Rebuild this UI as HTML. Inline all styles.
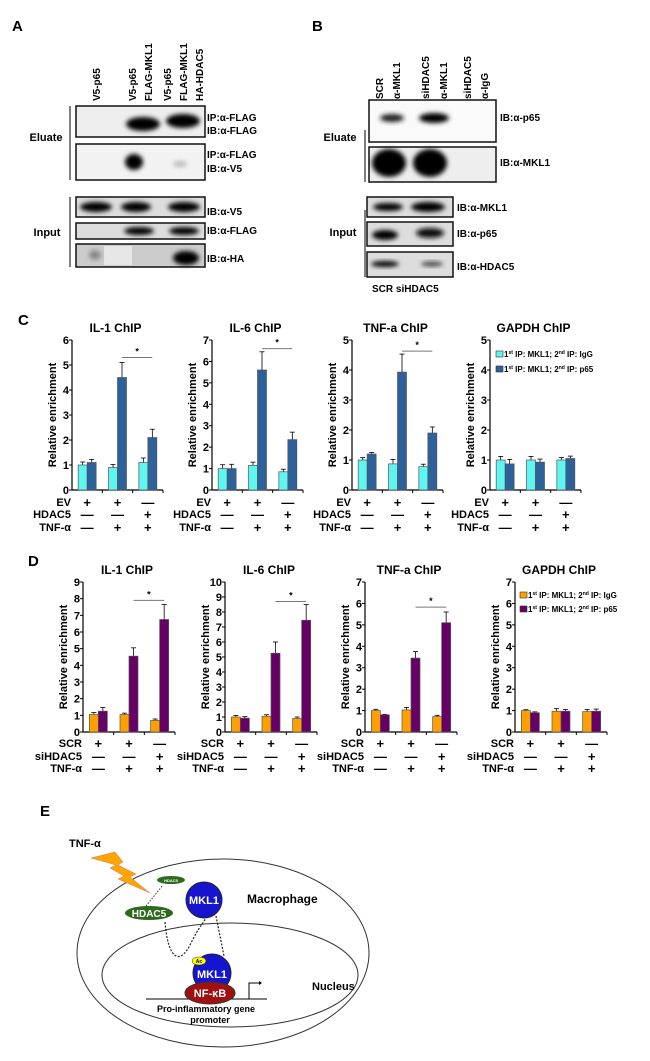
<!DOCTYPE html>
<html><head><meta charset="utf-8"><style>
body{margin:0;background:#fff}
svg{display:block;font-family:"Liberation Sans",Arial,sans-serif;font-weight:bold}
</style></head><body>
<svg id="fig" width="650" height="1061" viewBox="0 0 650 1061">
<defs>
<filter id="bl" x="-50%" y="-50%" width="200%" height="200%"><feGaussianBlur stdDeviation="2.5"/></filter>
</defs>
<!-- Panel A -->
<g>
<text x="12" y="31" font-size="15">A</text>
<g font-size="10">
<text transform="translate(100,101) rotate(-90)">V5-p65</text>
<text transform="translate(136,101) rotate(-90)">V5-p65</text>
<text transform="translate(152,101) rotate(-90)">FLAG-MKL1</text>
<text transform="translate(171,101) rotate(-90)">V5-p65</text>
<text transform="translate(187,101) rotate(-90)">FLAG-MKL1</text>
<text transform="translate(203,101) rotate(-90)">HA-HDAC5</text>
</g>
<line x1="70" y1="106" x2="70" y2="180" stroke="#000"/>
<line x1="70" y1="197" x2="70" y2="267" stroke="#000"/>
<text x="46" y="141" font-size="11" text-anchor="middle">Eluate</text>
<text x="47" y="236" font-size="11" text-anchor="middle">Input</text>
<g>
<rect x="76" y="106" width="129" height="31" fill="#eee" stroke="#111" stroke-width="1.5"/>
<ellipse cx="143" cy="124" rx="17" ry="7" fill="#000" filter="url(#bl)"/>
<ellipse cx="183" cy="121" rx="17" ry="7" fill="#000" filter="url(#bl)"/>
</g>
<g>
<rect x="76" y="144" width="129" height="36" fill="#f2f2f2" stroke="#111" stroke-width="1.5"/>
<ellipse cx="134" cy="162" rx="9" ry="8" fill="#000" filter="url(#bl)"/>
<ellipse cx="180" cy="164" rx="7" ry="3" fill="#bbb" filter="url(#bl)"/>
</g>
<g>
<rect x="76" y="197" width="129" height="20" fill="#ddd" stroke="#111" stroke-width="1.5"/>
<ellipse cx="96" cy="207" rx="16" ry="5" fill="#000" filter="url(#bl)"/>
<ellipse cx="136" cy="207" rx="15" ry="5" fill="#000" filter="url(#bl)"/>
<ellipse cx="184" cy="207" rx="16" ry="5" fill="#000" filter="url(#bl)"/>
</g>
<g>
<rect x="76" y="223" width="129" height="16" fill="#ddd" stroke="#111" stroke-width="1.5"/>
<ellipse cx="139" cy="231" rx="15" ry="4" fill="#000" filter="url(#bl)"/>
<ellipse cx="184" cy="231" rx="15" ry="4" fill="#000" filter="url(#bl)"/>
</g>
<g>
<rect x="76" y="244" width="129" height="23" fill="#ccc" stroke="#111" stroke-width="1.5"/>
<rect x="104" y="246" width="28" height="19" fill="#e6e6e6"/>
<ellipse cx="95" cy="255" rx="6" ry="5" fill="#888" filter="url(#bl)"/>
<ellipse cx="186" cy="258" rx="13" ry="7" fill="#000" filter="url(#bl)"/>
</g>
<g font-size="10">
<text x="207" y="121">IP:α-FLAG</text><text x="207" y="134">IB:α-FLAG</text>
<text x="207" y="158">IP:α-FLAG</text><text x="207" y="172">IB:α-V5</text>
<text x="207" y="215">IB:α-V5</text>
<text x="207" y="234">IB:α-FLAG</text>
<text x="207" y="262">IB:α-HA</text>
</g>
</g>
<!-- Panel B -->
<g>
<text x="312" y="31" font-size="15">B</text>
<g font-size="10">
<text transform="translate(383,99) rotate(-90)">SCR</text>
<text transform="translate(400,99) rotate(-90)">α-MKL1</text>
<text transform="translate(429,99) rotate(-90)">siHDAC5</text>
<text transform="translate(447,99) rotate(-90)">α-MKL1</text>
<text transform="translate(471,99) rotate(-90)">siHDAC5</text>
<text transform="translate(488,99) rotate(-90)">α-IgG</text>
</g>
<line x1="365" y1="130" x2="365" y2="182" stroke="#000"/>
<line x1="365" y1="210" x2="365" y2="277" stroke="#000"/>
<text x="340" y="141" font-size="11" text-anchor="middle">Eluate</text>
<text x="343" y="236" font-size="11" text-anchor="middle">Input</text>
<g>
<rect x="369" y="100" width="127" height="42" fill="#fafafa" stroke="#111" stroke-width="1.5"/>
<ellipse cx="392" cy="118" rx="12" ry="4" fill="#222" filter="url(#bl)"/>
<ellipse cx="434" cy="118" rx="15" ry="5" fill="#000" filter="url(#bl)"/>
</g>
<g>
<rect x="369" y="147" width="127" height="35" fill="#eee" stroke="#111" stroke-width="1.5"/>
<ellipse cx="389" cy="163" rx="17" ry="14" fill="#000" filter="url(#bl)"/>
<ellipse cx="430" cy="163" rx="17" ry="14" fill="#000" filter="url(#bl)"/>
</g>
<g>
<rect x="367" y="197" width="86" height="20" fill="#ddd" stroke="#111" stroke-width="1.5"/>
<ellipse cx="388" cy="207" rx="15" ry="4" fill="#000" filter="url(#bl)"/>
<ellipse cx="428" cy="207" rx="17" ry="5" fill="#000" filter="url(#bl)"/>
</g>
<g>
<rect x="367" y="222" width="86" height="24" fill="#ddd" stroke="#111" stroke-width="1.5"/>
<ellipse cx="385" cy="235" rx="13" ry="5" fill="#000" filter="url(#bl)"/>
<ellipse cx="430" cy="233" rx="14" ry="5" fill="#111" filter="url(#bl)"/>
</g>
<g>
<rect x="367" y="252" width="86" height="25" fill="#ddd" stroke="#111" stroke-width="1.5"/>
<ellipse cx="385" cy="264" rx="14" ry="3" fill="#000" filter="url(#bl)"/>
<ellipse cx="432" cy="264" rx="11" ry="2.5" fill="#444" filter="url(#bl)"/>
</g>
<g font-size="10">
<text x="500" y="121">IB:α-p65</text>
<text x="500" y="166">IB:α-MKL1</text>
<text x="457" y="211">IB:α-MKL1</text>
<text x="457" y="237">IB:α-p65</text>
<text x="457" y="270">IB:α-HDAC5</text>
<text x="372" y="292">SCR siHDAC5</text>
</g>
</g>
<text x="18" y="325" font-size="15">C</text>
<text x="28" y="566" font-size="15">D</text>
<g id="charts"></g>
<!-- Panel E -->
<g>
<text x="40" y="816" font-size="15">E</text>
<ellipse cx="223" cy="953" rx="146" ry="94" fill="none" stroke="#333"/>
<ellipse cx="230" cy="975" rx="128" ry="52" fill="none" stroke="#333"/>
<text x="69" y="847" font-size="11">TNF-α</text>
<polygon points="91,858 115,852 123,862 118,865 136,874 130,877 150,893 118,879 124,876 110,868 116,865" fill="#ffa500" stroke="#c77" stroke-width="0.5"/>
<ellipse cx="171" cy="880" rx="14" ry="4" fill="#2d6a1e"/>
<text x="171" y="882" font-size="4" fill="#fff" text-anchor="middle">HDAC5</text>
<line x1="146" y1="906" x2="163" y2="885" stroke="#333" stroke-dasharray="1.5,1.5"/>
<ellipse cx="149" cy="913" rx="24" ry="7" fill="#2d6a1e"/>
<text x="149" y="917" font-size="10" fill="#fff" text-anchor="middle">HDAC5</text>
<circle cx="204" cy="900" r="18" fill="#1515d0" stroke="#222"/>
<text x="204" y="904" font-size="11" fill="#fff" text-anchor="middle">MKL1</text>
<text x="247" y="903" font-size="12">Macrophage</text>
<path d="M165,922 C168,960 180,965 190,945 S202,925 206,918" fill="none" stroke="#222" stroke-dasharray="2,1.5" stroke-width="1.2"/>
<line x1="216" y1="916" x2="224" y2="956" stroke="#222" stroke-dasharray="2,1.5" stroke-width="1.2"/>
<circle cx="212" cy="973" r="19" fill="#1515d0" stroke="#222"/>
<text x="212" y="978" font-size="11" fill="#fff" text-anchor="middle">MKL1</text>
<ellipse cx="199" cy="961" rx="7" ry="4" fill="#ff0" stroke="#333" stroke-width="0.5"/>
<text x="199" y="963" font-size="5" text-anchor="middle">Ac</text>
<line x1="146" y1="999" x2="267" y2="999" stroke="#000"/>
<ellipse cx="210" cy="993" rx="25" ry="11" fill="#a01010" stroke="#333"/>
<text x="210" y="997" font-size="11" fill="#fff" text-anchor="middle">NF-κB</text>
<path d="M249,999 V983 H259" fill="none" stroke="#000"/>
<polygon points="259,981 262,983 259,985" fill="#000"/>
<text x="312" y="990" font-size="11">Nucleus</text>
<text x="206" y="1012" font-size="9" text-anchor="middle">Pro-inflammatory gene</text>
<text x="210" y="1023" font-size="9" text-anchor="middle">promoter</text>
</g>
</svg>
<script>
// ---- Panel C data ----
const cTitles = ["IL-1 ChIP","IL-6 ChIP","TNF-a ChIP","GAPDH ChIP"];
const cMax = [6,7,5,5];
const cIgG = [[1.0,0.9,1.1],[1.0,1.15,0.85],[1.0,0.87,0.78],[1.0,1.0,1.0]];
const cP65 = [[1.1,4.5,2.1],[1.0,5.6,2.35],[1.2,3.93,1.9],[0.87,0.93,1.05]];
const cIgGErr = [[0.12,0.12,0.18],[0.18,0.15,0.12],[0.08,0.15,0.08],[0.12,0.12,0.08]];
const cP65Err = [[0.12,0.6,0.33],[0.2,0.85,0.35],[0.05,0.6,0.2],[0.15,0.1,0.08]];
const cSig = [5.3,6.6,4.63,null];
const cRowNames = ["EV","HDAC5","TNF-α"];
// ---- Panel D data ----
const dTitles = ["IL-1 ChIP","IL-6 ChIP","TNF-a ChIP","GAPDH ChIP"];
const dMax = [9,10,7,7];
const dIgG = [[1.05,1.05,0.7],[1.0,1.05,0.9],[1.0,1.03,0.72],[1.0,0.97,0.95]];
const dP65 = [[1.25,4.55,6.75],[0.93,5.25,7.45],[0.8,3.45,5.1],[0.9,0.97,0.97]];
const dIgGErr = [[0.12,0.08,0.08],[0.1,0.1,0.1],[0.06,0.12,0.06],[0.04,0.12,0.1]];
const dP65Err = [[0.22,0.5,0.9],[0.1,0.75,1.05],[0.02,0.3,0.5],[0.04,0.08,0.1]];
const dSig = [7.9,8.7,5.83,null];
const dRowNames = ["SCR","siHDAC5","TNF-α"];
// shared condition table
const rowSigns = [["+","+","—"],["—","—","+"],["—","+","+"]];
const legendC = ["IgG","p65"];

const NS="http://www.w3.org/2000/svg";
const root=document.getElementById('charts');
function mk(tag,attrs,parent,txt){const e=document.createElementNS(NS,tag);for(const k in attrs)e.setAttribute(k,attrs[k]);if(txt!=null)e.textContent=txt;(parent||root).appendChild(e);return e;}

function drawChart(ox,top,zero,w,maxV,title,s1,s2,e1,e2,sig,rows,rowY,c1,c2,idx,panel){
  const g=mk('g',{});
  
  
  const y=v=>zero-(v/maxV)*(zero-top);
  const gw=w/3, bw=9;
  const t=mk('text',{x:ox+w/2-2,y:top-8,'font-size':12,'text-anchor':'middle'},g,title);
  
  
  const yl=mk('text',{transform:`translate(${ox-16},${(top+zero)/2}) rotate(-90)`,'font-size':11,'text-anchor':'middle'},g,'Relative enrichment');
  
  
  mk('line',{x1:ox,y1:top,x2:ox,y2:zero,stroke:'#000','stroke-width':1.2},g);
  mk('line',{x1:ox,y1:zero,x2:ox+w,y2:zero,stroke:'#000','stroke-width':1.2},g);
  for(let v=0;v<=maxV;v++){
    mk('line',{x1:ox-3,y1:y(v),x2:ox,y2:y(v),stroke:'#000'},g);
    const tl=mk('text',{x:ox-3,y:y(v)+4,'font-size':11,'text-anchor':'end'},g,String(v));
    
    
  }
  for(let i=1;i<=3;i++) mk('line',{x1:ox+gw*i,y1:zero,x2:ox+gw*i,y2:zero+3,stroke:'#000'},g);
  for(let i=0;i<3;i++){
    const cx=ox+gw*i+gw/2;
    [[s1,e1,c1,-bw],[s2,e2,c2,0]].forEach(([s,e,c,off],k)=>{
      const x=cx+off, yt=y(s[i]), ye=y(s[i]+e[i]);
      mk('line',{x1:x+bw/2,y1:yt,x2:x+bw/2,y2:ye,stroke:'#000','stroke-width':0.8},g);
      mk('line',{x1:x+bw/2-2.5,y1:ye,x2:x+bw/2+2.5,y2:ye,stroke:'#000','stroke-width':0.8},g);
      const b=mk('rect',{x:x,y:yt,width:bw,height:zero-yt,fill:c,stroke:'#555','stroke-width':0.7},g);
      
      
    });
  }
  if(sig!=null){
    const x1=ox+gw*1.5+bw/2, x2=ox+gw*2.5+bw/2, ys=y(sig);
    const sl=mk('line',{x1:x1,y1:ys,x2:x2,y2:ys,stroke:'#777','stroke-width':1},g);
    
    
    mk('text',{x:(x1+x2)/2,y:ys-3,'font-size':9,'text-anchor':'middle'},g,'*');
  }
  rows.forEach((r,ri)=>{
    const rl=mk('text',{x:ox-1,y:rowY[ri]+4,'font-size':11,'text-anchor':'end'},g,r);
    
    
    for(let i=0;i<3;i++){
      mk('text',{x:ox+gw*i+gw/2,y:rowY[ri]+5,'font-size':13,'text-anchor':'middle'},g,rowSigns[ri][i]);
    }
  });
}
function legend(x,y1,y2,c1,c2,name){
  const g=mk('g',{'font-size':8});
  
  
  [[y1,c1,legendC[0]],[y2,c2,legendC[1]]].forEach(([yy,c,l])=>{
    const e=mk('g',{},g);
    
    
    mk('rect',{x:x,y:yy-4,width:7,height:6,fill:c,stroke:'#333','stroke-width':0.6},e);
    const t=mk('text',{x:x+8,y:yy+2},e);
    t.innerHTML='1<tspan font-size="5" dy="-3">st</tspan><tspan dy="3"> IP: MKL1; 2</tspan><tspan font-size="5" dy="-3">nd</tspan><tspan dy="3"> IP: '+l+'</tspan>';
  });
}
const cX=[72,212,352,490], dX=[83,225,365,515];
for(let k=0;k<4;k++){
  drawChart(cX[k],340,490,91,cMax[k],cTitles[k],cIgG[k],cP65[k],cIgGErr[k],cP65Err[k],cSig[k],cRowNames,[502,514,527],'#5ff5f0','#2e6099',k,'c');
  drawChart(dX[k],582,732,92,dMax[k],dTitles[k],dIgG[k],dP65[k],dIgGErr[k],dP65Err[k],dSig[k],dRowNames,[743,756,768],'#ffa000','#660066',k,'d');
}
legend(496,355,370,'#5ff5f0','#2e6099','legend-c');
legend(520,596,610,'#ffa000','#660066','legend-d');
</script>
</body></html>
